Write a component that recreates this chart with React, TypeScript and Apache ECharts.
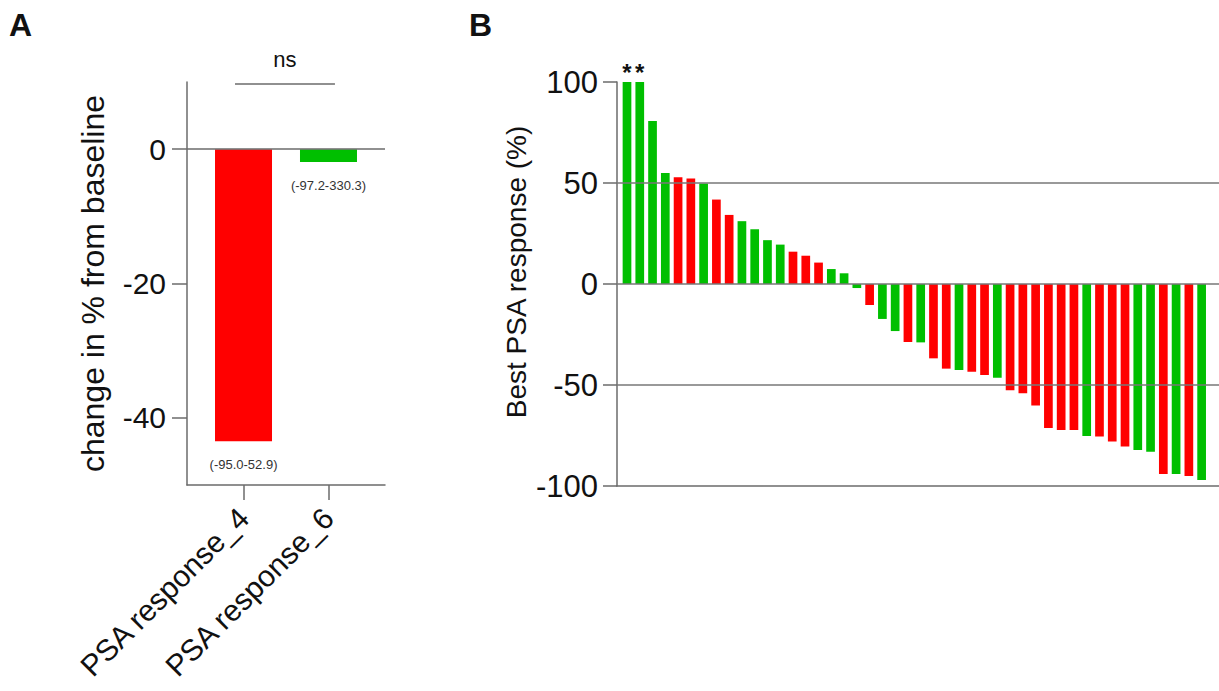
import React, { useEffect, useRef } from "react";
import * as echarts from "echarts";

// Panel A data
const groupLabels = ["PSA response_4", "PSA response_6"];
const groupMedians = [-43.5, -1.9];
const groupRanges = ["(-95.0-52.9)", "(-97.2-330.3)"];
const groupColors = ["#ff0000", "#00bf00"];
const panelATicks = [0, -20, -40];

// Panel B data (waterfall)
const patientResponse = [
  100, 100, 80.7, 55.0, 52.9, 52.2, 49.8, 41.8, 34.2, 31.1,
  27.1, 21.7, 19.5, 16.0, 14.0, 10.6, 7.4, 5.3, -2.0, -10.4,
  -17.3, -23.3, -28.7, -28.9, -36.8, -41.9, -42.6, -43.4, -45.0, -46.4,
  -52.6, -54.1, -60.1, -71.3, -72.3, -72.3, -75.2, -75.5, -78.0, -80.5,
  -82.2, -83.0, -94.1, -94.1, -95.0, -97.0,
];
// 4 = PSA response_4 (red), 6 = PSA response_6 (green)
const patientGroup = [
  6, 6, 6, 6, 4, 4, 6, 4, 4, 6,
  6, 6, 6, 4, 4, 4, 6, 6, 6, 4,
  6, 6, 4, 6, 4, 4, 6, 4, 4, 6,
  4, 4, 4, 4, 4, 4, 6, 4, 4, 4,
  6, 6, 4, 6, 4, 6,
];
const starredPatients = [0, 1];
const panelBTicks = [100, 50, 0, -50, -100];
const panelBGridLines = [50, 0, -50];

const FONT = "'Liberation Sans', Arial, Helvetica, sans-serif";
const AXIS_COLOR = "#6b6b6b";
const TEXT_COLOR = "#111";

export default function App() {
  const ref = useRef<HTMLDivElement>(null);

  useEffect(() => {
    if (!ref.current) return;
    const chart = echarts.init(ref.current, undefined, { renderer: "svg" });

    const aData = groupMedians.map((v, i) => ({
      value: [i + 1, v],
      itemStyle: { color: groupColors[i] },
      label: { formatter: groupRanges[i] },
    }));

    const bData = patientResponse.map((v, i) => ({
      value: [i + 1, v],
      itemStyle: { color: patientGroup[i] === 4 ? groupColors[0] : groupColors[1] },
      label: starredPatients.includes(i)
        ? { show: true, formatter: "*", position: "top", distance: -2, fontSize: 24, fontWeight: "bold", color: TEXT_COLOR, fontFamily: FONT }
        : { show: false },
    }));

    const option: any = {
      animation: false,
      textStyle: { fontFamily: FONT },
      graphic: [
        { type: "text", left: 9, top: 9, style: { text: "A", fontSize: 32, fontWeight: "bold", fill: TEXT_COLOR, fontFamily: FONT } },
        { type: "text", left: 469, top: 9, style: { text: "B", fontSize: 32, fontWeight: "bold", fill: TEXT_COLOR, fontFamily: FONT } },
      ],
      grid: [
        { left: 187, top: 82, width: 198, height: 403 },
        { left: 617, top: 82, width: 602, height: 404 },
      ],
      xAxis: [
        {
          gridIndex: 0,
          type: "value",
          min: 0.335,
          max: 2.665,
          splitLine: { show: false },
          axisLine: { show: true, onZero: false, lineStyle: { color: AXIS_COLOR, width: 1.5 } },
          axisTick: { show: true, customValues: [1, 2], length: 15, lineStyle: { color: AXIS_COLOR, width: 1.5 } },
          axisLabel: {
            customValues: [1, 2],
            formatter: (v: number) => groupLabels[Math.round(v) - 1] ?? "",
            rotate: 45,
            fontSize: 30,
            margin: 28,
            color: TEXT_COLOR,
            fontFamily: FONT,
          },
        },
        {
          gridIndex: 1,
          type: "value",
          min: 0.217,
          max: 47.36,
          splitLine: { show: false },
          axisLine: { show: true, onZero: false, lineStyle: { color: AXIS_COLOR, width: 1.5 } },
          axisTick: { show: false },
          axisLabel: { show: false },
        },
      ],
      yAxis: [
        {
          gridIndex: 0,
          type: "value",
          min: -50,
          max: 10,
          splitLine: { show: false },
          axisLine: { show: true, lineStyle: { color: AXIS_COLOR, width: 1.5 } },
          axisTick: { show: true, customValues: panelATicks, length: 15, lineStyle: { color: AXIS_COLOR, width: 1.5 } },
          axisLabel: { customValues: panelATicks, fontSize: 30, margin: 21, color: TEXT_COLOR, fontFamily: FONT },
          name: "change in % from baseline",
          nameLocation: "middle",
          nameRotate: 90,
          nameGap: 78,
          nameTextStyle: { fontSize: 32, color: TEXT_COLOR, fontFamily: FONT },
        },
        {
          gridIndex: 1,
          type: "value",
          min: -100,
          max: 100,
          interval: 50,
          splitLine: { show: false },
          axisLine: { show: true, lineStyle: { color: AXIS_COLOR, width: 1.5 } },
          axisTick: { show: true, customValues: panelBTicks, length: 14, lineStyle: { color: AXIS_COLOR, width: 1.5 } },
          axisLabel: { customValues: panelBTicks, fontSize: 31, margin: 19, color: TEXT_COLOR, fontFamily: FONT },
          name: "Best PSA response (%)",
          nameLocation: "middle",
          nameRotate: 90,
          nameGap: 87,
          nameTextStyle: { fontSize: 28, color: TEXT_COLOR, fontFamily: FONT, padding: [0, 0, 0, 24] },
        },
      ],
      series: [
        {
          type: "bar",
          xAxisIndex: 0,
          yAxisIndex: 0,
          barWidth: 57,
          data: aData,
          label: { show: true, position: "bottom", distance: 17, fontSize: 13, color: "#333", fontFamily: FONT },
          markLine: {
            silent: true,
            symbol: "none",
            animation: false,
            lineStyle: { color: AXIS_COLOR, width: 1.5, type: "solid" },
            data: [
              { yAxis: 0, label: { show: false } },
              [
                { coord: [0.9, 9.7], label: { show: true, formatter: "ns", position: "middle", distance: 14, fontSize: 22, color: TEXT_COLOR, fontFamily: FONT } },
                { coord: [2.076, 9.7] },
              ],
            ],
          },
        },
        {
          type: "bar",
          xAxisIndex: 1,
          yAxisIndex: 1,
          barWidth: 8.7,
          data: bData,
          markLine: {
            silent: true,
            symbol: "none",
            animation: false,
            lineStyle: { color: "#777", width: 1.5, type: "solid" },
            label: { show: false },
            data: panelBGridLines.map((y) => ({ yAxis: y })),
          },
        },
      ],
    };

    chart.setOption(option);
    return () => chart.dispose();
  }, []);

  return (
    <div
      ref={ref}
      style={{ position: "fixed", left: 0, top: 0, width: 1219, height: 691, background: "#fff" }}
    />
  );
}
